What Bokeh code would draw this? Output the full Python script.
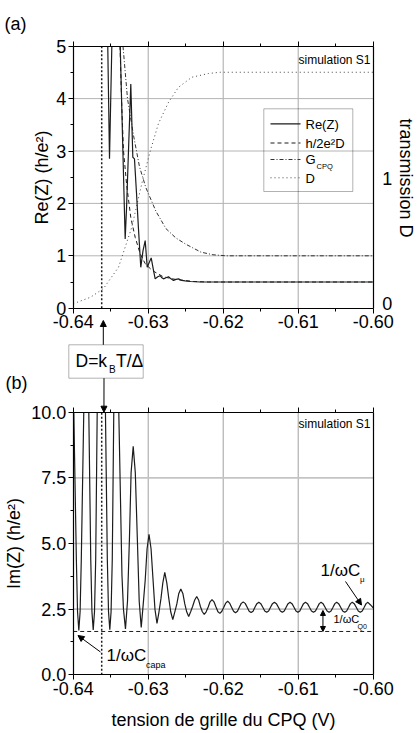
import math
from bokeh.plotting import figure
from bokeh.models import (Range1d, LinearAxis, FixedTicker, PrintfTickFormatter,
                          Label, Arrow, NormalHead, BoxAnnotation)
from bokeh.embed import file_html
from bokeh.resources import INLINE

nan = float("nan")

# ---------------- data ----------------
# gate voltage ticks
v_ticks = [-0.64, -0.63, -0.62, -0.61, -0.60]
v_minor = [-0.635, -0.625, -0.615, -0.605]
re_ticks = [0, 1, 2, 3, 4, 5]
re_minor = [0.5, 1.5, 2.5, 3.5, 4.5]
d_ticks = [0, 1]
im_ticks = [0.0, 2.5, 5.0, 7.5, 10.0]
im_minor = [1.25, 3.75, 6.25, 8.75]

# panel (a): Re(Z) in h/e^2 (nan = curve off scale)
re_v = [-0.63539, -0.63516, -0.63485, nan,
        -0.63373, -0.63343, -0.63307, -0.63289, -0.63263, -0.63232, -0.63219,
        -0.63205, -0.63183, -0.63156, -0.63129, -0.63099, -0.63069, -0.63040,
        -0.63013, -0.62987, -0.62960, -0.62933, -0.62907, -0.62873, -0.62840,
        -0.62817, -0.62796, -0.62763, -0.62729, -0.62696, -0.62663, -0.62629,
        -0.62596, -0.62552, -0.62507, -0.62436, -0.62303, -0.61000, -0.60000]
re_z = [5.0, 2.85, 5.0, nan,
        5.0, 3.3, 1.32, 1.9, 3.0, 4.28, 3.6,
        2.88, 2.85, 2.2, 1.5, 0.78, 1.1, 1.29,
        0.78, 0.87, 0.96, 0.75, 0.56, 0.60, 0.62,
        0.58, 0.56, 0.58, 0.60, 0.56, 0.53, 0.55,
        0.56, 0.53, 0.52, 0.51, 0.50, 0.50, 0.50]

# h/2e^2D
h2d_v = [-0.63376, -0.63352, -0.63329, -0.63287, -0.63231, -0.63173,
         -0.63107, -0.63040, -0.62947, -0.62800, -0.62640, -0.62400,
         -0.62200, -0.61000, -0.60000]
h2d = [5.0, 3.84, 3.0, 2.35, 1.72, 1.35,
       1.04, 0.85, 0.72, 0.60, 0.55, 0.51,
       0.50, 0.50, 0.50]

# G_CPQ
g_v = [-0.63336, -0.63276, -0.63196, -0.63116, -0.63031, -0.62897,
       -0.62764, -0.62631, -0.62497, -0.62297, -0.62137, -0.61964,
       -0.61000, -0.60000]
g_cpq = [5.0, 4.0, 3.3, 2.7, 2.3, 1.85,
         1.52, 1.34, 1.22, 1.07, 1.02, 1.0,
         1.0, 1.0]

# transmission D
d_v = [-0.64000, -0.63947, -0.63769, -0.63596, -0.63396, -0.63219,
       -0.63085, -0.62973, -0.62863, -0.62729, -0.62596, -0.62419,
       -0.62196, -0.62040, -0.61000, -0.60000]
d_val = [0.0, 0.01, 0.05, 0.12, 0.29, 0.61,
         0.96, 1.22, 1.44, 1.61, 1.73, 1.81,
         1.84, 1.85, 1.85, 1.85]

# panel (b): Im(Z) in h/e^2
im_v = [-0.63992, -0.63958, -0.63942, -0.63925, -0.63908, -0.63892, -0.63859, nan,
        -0.63792, -0.63766, -0.63750, -0.63733, -0.63716, -0.63700, -0.63680, nan,
        -0.63570, -0.63545, -0.63529, -0.63512, -0.63495, -0.63479, -0.63459, nan,
        -0.63392, -0.63350, -0.63330, -0.63303, -0.63276, -0.63250, -0.63228,
        -0.63200, -0.63172, -0.63145, -0.63120, -0.63093, -0.63066, -0.63040,
        -0.63015, -0.62989, -0.62962, -0.62935, -0.62910, -0.62883, -0.62856,
        -0.62830, -0.62805, -0.62779, -0.62752, -0.62725, -0.62700, -0.62672,
        -0.62645, -0.62618, -0.62592, -0.62565, -0.62538, -0.62512, -0.62487,
        -0.62460, -0.62434, -0.62408, -0.62380, -0.62353, -0.62328, -0.62304,
        -0.62278, -0.62253, -0.62227, -0.62200, -0.62175, -0.62149, -0.62123,
        -0.62096, -0.62070, -0.62044, -0.62018, -0.61992, -0.61966, -0.61941,
        -0.61915, -0.61888, -0.61862, -0.61836, -0.61810, -0.61785, -0.61759,
        -0.61733, -0.61707, -0.61680, -0.61654, -0.61628, -0.61602, -0.61577,
        -0.61551, -0.61525, -0.61499, -0.61472, -0.61446, -0.61420, -0.61394,
        -0.61369, -0.61343, -0.61317, -0.61291, -0.61264, -0.61238, -0.61212,
        -0.61186, -0.61161, -0.61135, -0.61109, -0.61083, -0.61056, -0.61030,
        -0.61004, -0.60978, -0.60954, -0.60929, -0.60903, -0.60876, -0.60850,
        -0.60823, -0.60796, -0.60770, -0.60744, -0.60719, -0.60695, -0.60669,
        -0.60642, -0.60615, -0.60588, -0.60562, -0.60536, -0.60511, -0.60487,
        -0.60461, -0.60434, -0.60407, -0.60380, -0.60354, -0.60328, -0.60303,
        -0.60279, -0.60253, -0.60226, -0.60199, -0.60172, -0.60146, -0.60120,
        -0.60095, -0.60071, -0.60035, -0.60000]
im_z = [10.0, 4.4, 2.4, 1.69, 2.4, 4.4, 10.0, nan,
        10.0, 4.4, 2.4, 1.71, 2.4, 4.4, 10.0, nan,
        10.0, 4.4, 2.4, 1.72, 2.4, 4.4, 10.0, nan,
        10.0, 3.8, 2.5, 1.75, 2.8, 5.2, 7.7,
        8.7, 7.7, 5.2, 2.8, 1.80, 2.7, 3.6,
        4.8, 5.35, 4.8, 3.6, 2.5, 1.96, 2.4,
        2.9, 3.5, 3.9, 3.5, 2.9, 2.4, 2.10,
        2.4, 2.7, 3.1, 3.27, 3.1, 2.7, 2.4,
        2.22, 2.4, 2.6, 2.85, 2.98, 2.85, 2.6,
        2.4, 2.30, 2.4, 2.58, 2.78, 2.86, 2.78,
        2.58, 2.4, 2.34, 2.42, 2.57, 2.73, 2.80,
        2.73, 2.57, 2.42, 2.36, 2.42, 2.57, 2.72,
        2.77, 2.72, 2.57, 2.42, 2.37, 2.42, 2.57,
        2.71, 2.76, 2.71, 2.57, 2.43, 2.38, 2.43,
        2.57, 2.71, 2.76, 2.71, 2.57, 2.43, 2.38,
        2.43, 2.57, 2.71, 2.76, 2.71, 2.57, 2.43,
        2.38, 2.43, 2.57, 2.71, 2.76, 2.71, 2.57,
        2.43, 2.38, 2.43, 2.57, 2.71, 2.76, 2.71,
        2.57, 2.43, 2.38, 2.43, 2.57, 2.71, 2.76,
        2.71, 2.57, 2.43, 2.38, 2.43, 2.57, 2.71,
        2.76, 2.71, 2.57, 2.43, 2.38, 2.43, 2.57,
        2.71, 2.76, 2.66, 2.55]

im_capa = 1.65           # 1/wC_capa level
v_kt = -0.6362           # D = kT/Delta position
v_q0 = -0.6067           # position of the 1/wC_Q0 marker

# ---------------- geometry ----------------
W, H = 417, 733
XL, XR = 72.7, 372.7          # left / right frame edges of both panels
A_TOP, A_BOT = 45.7, 307.7    # panel (a)
B_TOP, B_BOT = 411.7, 674.3   # panel (b)
D0_PX, D1_PX = 303.0, 178.0   # transmission 0 and 1 on the right axis

kx = (XR - XL) / (v_ticks[-1] - v_ticks[0])
ka = (A_BOT - A_TOP) / 5.0
kb = (B_BOT - B_TOP) / 10.0
kd = D0_PX - D1_PX


def sx(px):
    return v_ticks[0] + (px - XL) / kx


def sy(py):
    return (B_BOT - py) / kb


FONT = "Liberation Sans"
INK = "#1c1c1c"

p = figure(width=W, height=H,
           x_range=Range1d(sx(0), sx(W)),
           y_range=Range1d(sy(H), sy(0)),
           x_axis_type=None, y_axis_type=None,
           min_border=0, toolbar_location=None, output_backend="svg",
           outline_line_color=None, background_fill_color="white",
           border_fill_color="white")
p.title.visible = False
p.extra_y_ranges = {
    "ya": Range1d(-(H - A_BOT) / ka, 5 + A_TOP / ka),
    "yd": Range1d(-(H - D0_PX) / kd, D0_PX / kd),
}

# ---------------- grids ----------------
inner_v = v_ticks[1:-1]
p.segment(x0=inner_v, y0=[re_ticks[0]] * 3, x1=inner_v, y1=[re_ticks[-1]] * 3,
          y_range_name="ya", line_color="#a8a8a8", line_width=1)
p.segment(x0=[v_ticks[0]] * 4, y0=re_ticks[1:-1], x1=[v_ticks[-1]] * 4, y1=re_ticks[1:-1],
          y_range_name="ya", line_color="#b4b4b4", line_width=1)
p.segment(x0=inner_v, y0=[im_ticks[0]] * 3, x1=inner_v, y1=[im_ticks[-1]] * 3,
          line_color="#a0a0a0", line_width=1)
p.segment(x0=[v_ticks[0]] * 3, y0=im_ticks[1:-1], x1=[v_ticks[-1]] * 3, y1=im_ticks[1:-1],
          line_color="#c4c4c4", line_width=1.6)

# ---------------- axes ----------------
def style(ax, labels=True):
    ax.major_label_text_font = FONT
    ax.major_label_text_font_size = "18px"
    ax.major_label_text_color = "black" if labels else None
    ax.axis_label_text_font = FONT
    ax.axis_label_text_font_size = "18px"
    ax.axis_label_text_font_style = "normal"
    ax.axis_label_text_color = "black"
    ax.axis_line_color = "black"
    ax.axis_line_width = 1.2
    ax.major_tick_line_color = "black"
    ax.minor_tick_line_color = "black"
    ax.major_tick_in = 0
    ax.minor_tick_in = 0
    ax.major_tick_out = 5
    ax.minor_tick_out = 3
    ax.major_label_standoff = 2


def xaxis(side, loc, yname, labels, label=""):
    ax = LinearAxis(fixed_location=loc, y_range_name=yname, bounds=(v_ticks[0], v_ticks[-1]),
                    ticker=FixedTicker(ticks=v_ticks, minor_ticks=v_minor),
                    formatter=PrintfTickFormatter(format="%.2f"), axis_label=label)
    style(ax, labels=labels)
    p.add_layout(ax, side)
    return ax


def yaxis(side, yname, ticks, minor, bounds, fmt, labels, label="", loc=None):
    ax = LinearAxis(fixed_location=loc, y_range_name=yname, bounds=bounds,
                    ticker=FixedTicker(ticks=ticks, minor_ticks=minor),
                    formatter=PrintfTickFormatter(format=fmt), axis_label=label)
    style(ax, labels=labels)
    p.add_layout(ax, side)
    return ax


# panel (a)
xaxis("below", 0, "ya", True)
xaxis("above", 5, "ya", False)
ya = yaxis("left", "ya", re_ticks, re_minor, (0, 5), "%d", True, "Re(Z) (h/e²)", v_ticks[0])
ya.axis_label_standoff = 1
yd = yaxis("right", "yd", d_ticks, [], (-(A_BOT - D0_PX) / kd, (D0_PX - A_TOP) / kd),
           "%d", True, "", v_ticks[-1])
yd.major_tick_out = 0
yd.major_label_standoff = 9

# panel (b)
xb = xaxis("below", 0, "default", True, "tension de grille du CPQ (V)")
xb.axis_label_standoff = 12
xaxis("above", 10, "default", False)
yb = yaxis("left", "default", im_ticks, im_minor, (0, 10), "%.1f", True, "Im(Z) (h/e²)", v_ticks[0])
yb.axis_label_standoff = 4
yr = yaxis("right", "default", [], [], (0, 10), "%.1f", False, "", v_ticks[-1])
yr.major_tick_out = 0

# ---------------- curves ----------------
p.line([v_kt, v_kt], [re_ticks[0], re_ticks[-1]], y_range_name="ya",
       line_color=INK, line_width=1.5, line_dash="2 2")
p.line(d_v, d_val, y_range_name="yd", line_color="#444444", line_width=1, line_dash="1 3")
p.line(g_v, g_cpq, y_range_name="ya", line_color="#333333", line_width=1, line_dash="4 2 1 2")
p.line(h2d_v, h2d, y_range_name="ya", line_color=INK, line_width=1, line_dash="4 3")
p.line(re_v, re_z, y_range_name="ya", line_color=INK, line_width=1.2)

p.line([v_kt, v_kt], [im_ticks[0], im_ticks[-1]], line_color=INK, line_width=1.5, line_dash="2 2")
p.line([v_ticks[0], v_ticks[-1]], [im_capa, im_capa], line_color=INK, line_width=1, line_dash="4 3")
p.line(im_v, im_z, line_color=INK, line_width=1.2)

# ---------------- legend (panel a) ----------------
p.add_layout(BoxAnnotation(left=sx(263.3), right=sx(352.3), top=sy(108.3), bottom=sy(191),
                           fill_color=None, line_color="black", line_width=1))
leg_rows = [(123.3, None, 1.2, INK), (142.5, "4 3", 1, INK),
            (159.0, "4 2 1 2", 1, "#333333"), (177.3, "1 3", 1, "#444444")]
for yy, dash, lw, col in leg_rows:
    kw = dict(line_color=col, line_width=lw)
    if dash:
        kw["line_dash"] = dash
    p.line([sx(270), sx(300)], [sy(yy), sy(yy)], **kw)


def label(x, y, text, size, align="left", baseline="middle", angle=0.0):
    p.add_layout(Label(x=sx(x), y=sy(y), text=text, text_font=FONT,
                       text_font_size=size, text_align=align, angle=angle,
                       text_baseline=baseline, text_color="black"))


label(305, 123.5, "Re(Z)", "13px")
label(305, 142.5, "h/2e²D", "13px")
label(305, 158.5, "G", "13px")
label(316, 165.5, "CPQ", "7.5px")
label(305, 177.5, "D", "13px")

# right axis title, reading downwards
label(405, 177.5, "transmission D", "18px", align="center", angle=-math.pi / 2)

# ---------------- texts ----------------
label(4, 23, "(a)", "18px")
label(5, 382, "(b)", "18px")
label(370, 59, "simulation S1", "12px", align="right")
label(370, 423.5, "simulation S1", "12px", align="right")

# D = kB T / Delta box with arrows
p.add_layout(BoxAnnotation(left=sx(68.3), right=sx(142.7), top=sy(344.3), bottom=sy(377.7),
                           fill_color=None, line_color="black", line_width=1))
label(75, 360.5, "D=k", "17.5px")
label(108.5, 369, "B", "10px")
label(115.5, 360.5, "T/Δ", "17.5px")

head = dict(size=6, fill_color="black", line_color="black")
p.add_layout(Arrow(x_start=sx(102.8), y_start=sy(344.3), x_end=sx(102.8), y_end=sy(320),
                   end=NormalHead(**head), line_width=1))
p.add_layout(Arrow(x_start=sx(103.5), y_start=sy(377.7), x_end=v_kt + 0.0003, y_end=im_ticks[-1],
                   end=NormalHead(**head), line_width=1))

# annotations of panel (b)
label(106, 655, "1/ωC", "17px")
label(145.5, 664.5, "capa", "9px")
p.add_layout(Arrow(x_start=sx(100), y_start=sy(651.5), x_end=sx(77.5), y_end=sy(635),
                   end=NormalHead(**head), line_width=1))

label(320, 569.5, "1/ωC", "17px")
label(359.5, 579, "μ", "8px")
p.add_layout(Arrow(x_start=sx(345), y_start=sy(581), x_end=sx(361), y_end=sy(604.5),
                   end=NormalHead(**head), line_width=1))

label(333, 618.5, "1/ωC", "11px")
label(357, 626, "Q0", "7px")
p.add_layout(Arrow(x_start=v_q0, y_start=im_capa, x_end=v_q0, y_end=2.45,
                   start=NormalHead(size=5, fill_color="black", line_color="black"),
                   end=NormalHead(size=5, fill_color="black", line_color="black"), line_width=1))

open("out.html", "w").write(file_html(p, INLINE))
